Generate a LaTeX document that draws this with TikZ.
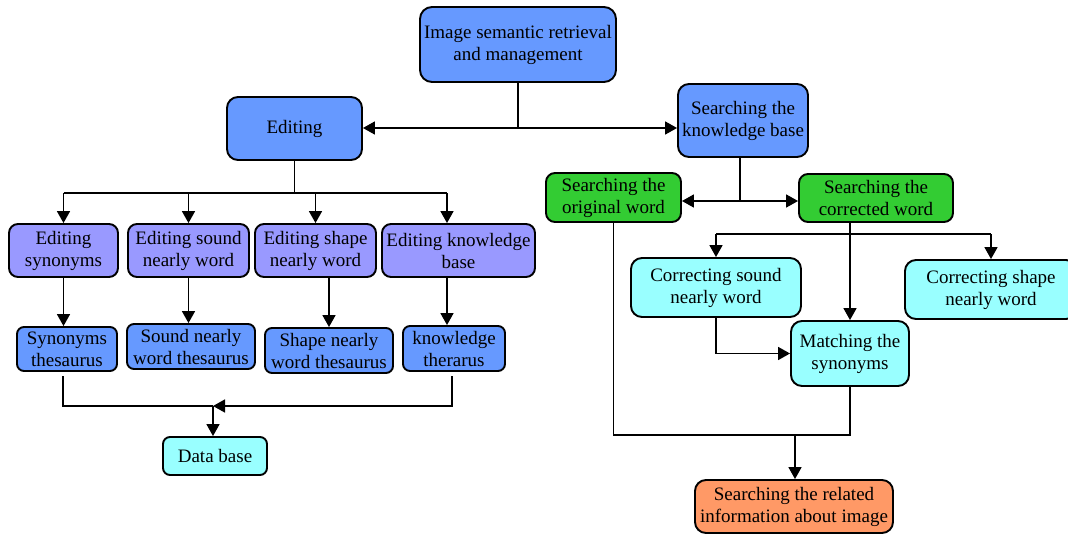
\documentclass[tikz,border=0pt]{standalone}
\usepackage{fontspec}
\setmainfont{Liberation Serif}
\usetikzlibrary{arrows.meta}
\definecolor{boxblue}{RGB}{102,153,255}
\definecolor{boxviolet}{RGB}{153,153,255}
\definecolor{boxgreen}{RGB}{51,204,51}
\definecolor{boxcyan}{RGB}{153,255,255}
\definecolor{boxorange}{RGB}{255,153,102}
\begin{document}
\begin{tikzpicture}[x=1pt,y=-1pt,
  card/.style={draw=black, line width=1.9pt, rounded corners=9pt, align=center,
    inner sep=0pt, text=black, font=\fontsize{19}{22}\selectfont},
  wire/.style={line width=1.7pt},
  arr/.style={wire, -{Triangle[length=12pt,width=13pt]}},
]
\useasboundingbox (0,0) rectangle (1068,533);

% top level
\node[card, fill=boxblue, rounded corners=12pt, minimum width=196pt, minimum height=75pt] (top) at (518,44.5) {Image semantic retrieval\\and management};
\node[card, fill=boxblue, rounded corners=11pt, minimum width=135pt, minimum height=63pt] (edit) at (294.5,128.5) {Editing};
\node[card, fill=boxblue, rounded corners=11pt, minimum width=130pt, minimum height=73pt] (kb) at (743,120.5) {Searching the\\knowledge base};

% editing branch
\node[card, fill=boxviolet, minimum width=109pt, minimum height=53pt] (esyn) at (63.5,250.5) {Editing\\synonyms};
\node[card, fill=boxviolet, minimum width=121pt, minimum height=53pt] (esound) at (188.5,250.5) {Editing sound\\nearly word};
\node[card, fill=boxviolet, minimum width=121pt, minimum height=53pt] (eshape) at (315.5,250.5) {Editing shape\\nearly word};
\node[card, fill=boxviolet, minimum width=153pt, minimum height=53pt] (eknow) at (458.5,250.5) {Editing knowledge\\base};

\node[card, fill=boxblue, rounded corners=7pt, minimum width=100pt, minimum height=44pt] (tsyn) at (67,349) {Synonyms\\thesaurus};
\node[card, fill=boxblue, rounded corners=7pt, minimum width=128pt, minimum height=45pt] (tsound) at (191,346.5) {Sound nearly\\word thesaurus};
\node[card, fill=boxblue, rounded corners=7pt, minimum width=128pt, minimum height=45pt] (tshape) at (329,350.5) {Shape nearly\\word thesaurus};
\node[card, fill=boxblue, rounded corners=7pt, minimum width=102pt, minimum height=45pt] (tknow) at (454,348.5) {knowledge\\therarus};

\node[card, fill=boxcyan, rounded corners=7pt, minimum width=104pt, minimum height=38pt] (db) at (215,456) {Data base};

% searching branch
\node[card, fill=boxgreen, minimum width=135pt, minimum height=49pt] (orig) at (613.5,197.5) {Searching the\\original word};
\node[card, fill=boxgreen, minimum width=154pt, minimum height=48pt] (corr) at (876,198) {Searching the\\corrected word};

\node[card, fill=boxcyan, rounded corners=11pt, minimum width=170pt, minimum height=59pt] (csound) at (716,287.5) {Correcting sound\\nearly word};
\node[card, fill=boxcyan, rounded corners=11pt, minimum width=172pt, minimum height=59pt] (cshape) at (991,289.5) {Correcting shape\\nearly word};
\node[card, fill=boxcyan, rounded corners=11pt, minimum width=118pt, minimum height=65pt] (match) at (850,353.5) {Matching the\\synonyms};

\node[card, fill=boxorange, rounded corners=11pt, minimum width=198pt, minimum height=53pt] (rel) at (794,506.5) {Searching the related\\information about image};

% connectors: top level
\coordinate (jt) at (518,128);
\draw[wire] (top.south) -- (jt);
\draw[arr] (jt) -- (edit.east |- jt);
\draw[arr] (jt) -- (kb.west |- jt);

% connectors: editing
\coordinate (je) at (294.5,193);
\coordinate (ka) at ([xshift=-11.5pt]eknow.north);
\coordinate (kb2) at ([xshift=-11.5pt]eknow.south);
\draw[wire] (edit.south) -- (je);
\draw[wire] (esyn.north |- je) -- (ka |- je);
\draw[arr] (esyn.north |- je) -- (esyn.north);
\draw[arr] (esound.north |- je) -- (esound.north);
\draw[arr] (eshape.north |- je) -- (eshape.north);
\draw[arr] (ka |- je) -- (ka);

\draw[arr] (esyn.south) -- (esyn.south |- tsyn.north);
\draw[arr] (esound.south) -- (esound.south |- tsound.north);
\draw[arr] (tshape.north |- eshape.south) -- (tshape.north);
\draw[arr] (kb2) -- (kb2 |- tknow.north);

\coordinate (jd) at (213,406);
\coordinate (s1) at (63,376);
\coordinate (s2) at (452,376);
\draw[wire] (s1) |- (jd);
\draw[arr] (s2) |- (jd);
\draw[arr] (jd) -- (jd |- db.north);

% connectors: searching
\coordinate (jk) at (740,201);
\draw[wire] (jk |- kb.south) -- (jk);
\draw[arr] (jk) -- (jk -| orig.east);
\draw[arr] (jk) -- (jk -| corr.west);

\coordinate (jc) at (850,234);
\draw[arr] (match.north |- corr.south) -- (match.north);
\draw[wire] (jc -| csound.north) -- (jc -| cshape.north);
\draw[arr] (jc -| csound.north) -- (csound.north);
\draw[arr] (jc -| cshape.north) -- (cshape.north);
\draw[arr] (csound.south) |- (match.west);

\coordinate (jr) at (795,435);
\draw[wire] (orig.south) |- (jr);
\draw[wire] (match.south) |- (jr);
\draw[arr] (jr) -- (jr |- rel.north);
\end{tikzpicture}
\end{document}
